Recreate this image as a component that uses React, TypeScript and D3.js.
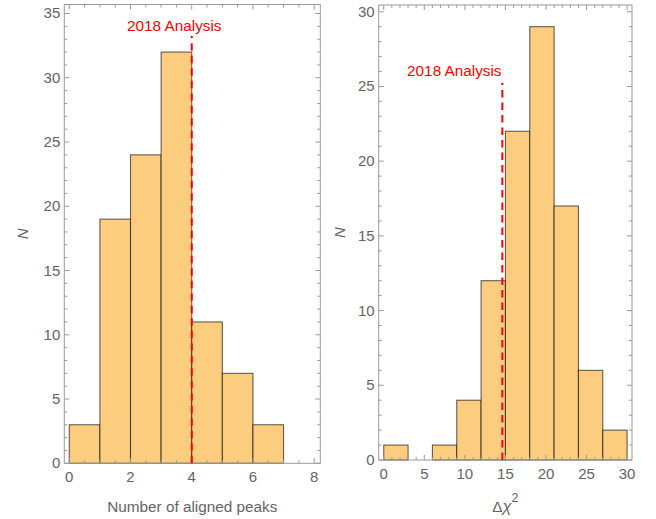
import React from "react";
import * as d3 from "d3";

// ---- Data ----
const peaksBinEdges = [0, 1, 2, 3, 4, 5, 6, 7];
const peaksCounts = [3, 19, 24, 32, 11, 7, 3];
const peaksXTicks = [0, 2, 4, 6, 8];
const peaksYTicks = [0, 5, 10, 15, 20, 25, 30, 35];
const peaksRefValue = 4;
const peaksRefTop = 33.25;
const peaksLabelPos = [3.43, 34.0];

const chiBinEdges = [0, 3, 6, 9, 12, 15, 18, 21, 24, 27, 30];
const chiCounts = [1, 0, 1, 4, 12, 22, 29, 17, 6, 2];
const chiXTicks = [0, 5, 10, 15, 20, 25, 30];
const chiYTicks = [0, 5, 10, 15, 20, 25, 30];
const chiRefValue = 14.62;
const chiRefTop = 25.25;
const chiLabelPos = [8.7, 26.0];

const refLabel = "2018 Analysis";

const FONT = "'Liberation Sans', Arial, sans-serif";
const FRAME = "#9a9a9a";
const LABEL = "#646464";
const FILL = "#fccd7f";

type PanelProps = {
  frame: { x0: number; x1: number; y0: number; y1: number };
  xDomain: [number, number];
  yDomain: [number, number];
  edges: number[];
  counts: number[];
  xTicks: number[];
  yTicks: number[];
  xMinorStep: number;
  yMinorStep: number;
  refValue: number;
  refTop: number;
  labelPos: number[];
  nLabelX: number;
  xLabel: React.ReactNode;
};

function Panel(p: PanelProps) {
  const { frame } = p;
  const x = d3.scaleLinear().domain(p.xDomain).range([frame.x0, frame.x1]);
  const y = d3.scaleLinear().domain(p.yDomain).range([frame.y1, frame.y0]);
  const xMinor = d3.range(
    Math.ceil(p.xDomain[0] / p.xMinorStep) * p.xMinorStep,
    p.xDomain[1] + 1e-9,
    p.xMinorStep
  ).filter((v) => !p.xTicks.some((t) => Math.abs(t - v) < 1e-9));
  const yMinor = d3.range(
    Math.ceil(p.yDomain[0] / p.yMinorStep) * p.yMinorStep,
    p.yDomain[1] + 1e-9,
    p.yMinorStep
  ).filter((v) => !p.yTicks.some((t) => Math.abs(t - v) < 1e-9));
  const MAJ = 5;
  const MIN = 3;
  return (
    <g>
      {p.counts.map((c, i) =>
        c > 0 ? (
          <rect
            key={i}
            x={x(p.edges[i])}
            y={y(c)}
            width={x(p.edges[i + 1]) - x(p.edges[i])}
            height={y(0) - y(c)}
            fill={FILL}
            stroke="#000"
            strokeOpacity={0.6}
            strokeWidth={1.1}
          />
        ) : null
      )}
      <rect
        x={frame.x0}
        y={frame.y0}
        width={frame.x1 - frame.x0}
        height={frame.y1 - frame.y0}
        fill="none"
        stroke={FRAME}
        strokeWidth={1}
      />
      {p.xTicks.map((t) => (
        <g key={"xt" + t}>
          <line x1={x(t)} x2={x(t)} y1={frame.y1} y2={frame.y1 - MAJ} stroke={FRAME} />
          <line x1={x(t)} x2={x(t)} y1={frame.y0} y2={frame.y0 + MAJ} stroke={FRAME} />
          <text
            x={x(t)}
            y={frame.y1 + 19}
            textAnchor="middle"
            fontFamily={FONT}
            fontSize={15}
            fill={LABEL}
          >
            {t}
          </text>
        </g>
      ))}
      {xMinor.map((t) => (
        <g key={"xm" + t}>
          <line x1={x(t)} x2={x(t)} y1={frame.y1} y2={frame.y1 - MIN} stroke={FRAME} />
          <line x1={x(t)} x2={x(t)} y1={frame.y0} y2={frame.y0 + MIN} stroke={FRAME} />
        </g>
      ))}
      {p.yTicks.map((t) => (
        <g key={"yt" + t}>
          <line x1={frame.x0} x2={frame.x0 + MAJ} y1={y(t)} y2={y(t)} stroke={FRAME} />
          <line x1={frame.x1} x2={frame.x1 - MAJ} y1={y(t)} y2={y(t)} stroke={FRAME} />
          <text
            x={frame.x0 - 4}
            y={y(t) + 5}
            textAnchor="end"
            fontFamily={FONT}
            fontSize={15}
            fill={LABEL}
          >
            {t}
          </text>
        </g>
      ))}
      {yMinor.map((t) => (
        <g key={"ym" + t}>
          <line x1={frame.x0} x2={frame.x0 + MIN} y1={y(t)} y2={y(t)} stroke={FRAME} />
          <line x1={frame.x1} x2={frame.x1 - MIN} y1={y(t)} y2={y(t)} stroke={FRAME} />
        </g>
      ))}
      <line
        x1={x(p.refValue)}
        x2={x(p.refValue)}
        y1={y(0)}
        y2={y(p.refTop)}
        stroke="#ff0000"
        strokeWidth={2}
        strokeDasharray="7.5,5"
      />
      <text
        x={x(p.labelPos[0])}
        y={y(p.labelPos[1]) + 5}
        textAnchor="middle"
        fontFamily={FONT}
        fontSize={15.3}
        fill="#ff0000"
      >
        {refLabel}
      </text>
      <text
        transform={`translate(${p.nLabelX},${(frame.y0 + frame.y1) / 2}) rotate(-90)`}
        textAnchor="middle"
        dominantBaseline="central"
        fontFamily={FONT}
        fontSize={15}
        fontStyle="italic"
        fill={LABEL}
      >
        N
      </text>
      <text
        x={(frame.x0 + frame.x1) / 2}
        y={512}
        textAnchor="middle"
        fontFamily={FONT}
        fontSize={15.3}
        fill={LABEL}
      >
        {p.xLabel}
      </text>
    </g>
  );
}

export default function App() {
  return (
    <svg
      width={656}
      height={519}
      style={{ position: "absolute", left: 0, top: 0, background: "#fff" }}
    >
      <rect width={656} height={519} fill="#fff" />
      <Panel
        frame={{ x0: 64.3, x1: 320.3, y0: 4.5, y1: 463.3 }}
        xDomain={[-0.163, 8.2]}
        yDomain={[0, 35.7]}
        edges={peaksBinEdges}
        counts={peaksCounts}
        xTicks={peaksXTicks}
        yTicks={peaksYTicks}
        xMinorStep={0.5}
        yMinorStep={1}
        refValue={peaksRefValue}
        refTop={peaksRefTop}
        labelPos={peaksLabelPos}
        nLabelX={22}
        xLabel="Number of aligned peaks"
      />
      <Panel
        frame={{ x0: 378.7, x1: 632, y0: 5, y1: 460 }}
        xDomain={[-0.62, 30.6]}
        yDomain={[0, 30.45]}
        edges={chiBinEdges}
        counts={chiCounts}
        xTicks={chiXTicks}
        yTicks={chiYTicks}
        xMinorStep={1}
        yMinorStep={1}
        refValue={chiRefValue}
        refTop={chiRefTop}
        labelPos={chiLabelPos}
        nLabelX={339.5}
        xLabel={
          <>
            {"Δ"}
            <tspan fontStyle="italic" fontSize={16.5}>χ</tspan>
            <tspan dy={-10} fontSize={12.5}>2</tspan>
          </>
        }
      />
    </svg>
  );
}
